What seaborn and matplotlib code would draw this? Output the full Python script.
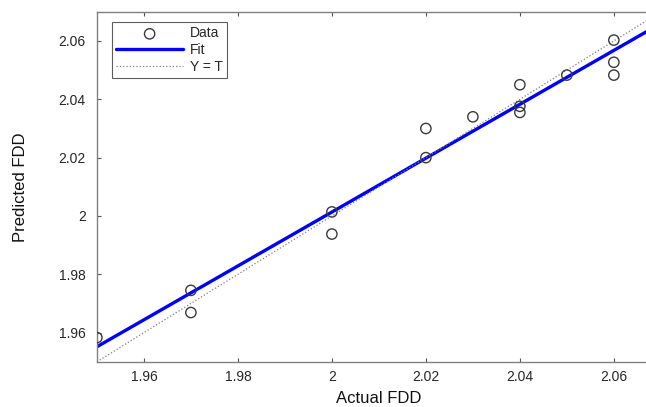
import numpy as np
import pandas as pd
import matplotlib
matplotlib.use('Agg')
import matplotlib.pyplot as plt
import seaborn as sns

# values
actual = [1.95, 1.97, 1.97, 2.00, 2.00, 2.02, 2.02, 2.03,
          2.04, 2.04, 2.04, 2.05, 2.06, 2.06, 2.06]
predicted = [1.9583, 1.9745, 1.9669, 2.0014, 1.9938, 2.0300, 2.0200, 2.0340,
             2.0450, 2.0376, 2.0355, 2.0483, 2.0603, 2.0527, 2.0483]
x_ticks = [1.96, 1.98, 2.00, 2.02, 2.04, 2.06]
y_ticks = [1.96, 1.98, 2.00, 2.02, 2.04, 2.06]
x_tick_labels = ['1.96', '1.98', '2', '2.02', '2.04', '2.06']
y_tick_labels = ['1.96', '1.98', '2', '2.02', '2.04', '2.06']

data = pd.DataFrame({'Actual': actual, 'Predicted': predicted})

sns.set_style('white')
plt.rcParams['font.family'] = ['Liberation Sans', 'DejaVu Sans']

fig = plt.figure(figsize=(6.46, 4.07), dpi=100)
# axes run past the right edge, as in the cropped original
ax = fig.add_axes([0.150, 0.111, 0.873, 0.860])

# Linear fit of predicted vs actual
slope, intercept = np.polyfit(data['Actual'], data['Predicted'], 1)
line_x = np.array([1.95, 2.07])

sns.scatterplot(data=data, x='Actual', y='Predicted', ax=ax, marker='o',
                s=55, facecolor='none', edgecolor='#3a3a3a', linewidth=1.0,
                label='Data', zorder=3)
ax.plot(line_x, slope * line_x + intercept, color='#0000ff', lw=2.4, label='Fit')
ax.plot(line_x, line_x, color='#808080', lw=0.9, ls=':', label='Y = T')

ax.set_xlim(1.95, 2.07)
ax.set_ylim(1.95, 2.07)
ax.set_xticks(x_ticks)
ax.set_xticklabels(x_tick_labels)
ax.set_yticks(y_ticks)
ax.set_yticklabels(y_tick_labels)
ax.tick_params(direction='in', length=3, width=0.8, color='#555555',
               labelsize=10, labelcolor='#262626', top=True, right=True,
               bottom=True, left=True)
ax.tick_params(axis='x', pad=6)
ax.tick_params(axis='y', pad=8)
for sp in ax.spines.values():
    sp.set_color('#808080')
    sp.set_linewidth(1.0)

ax.set_xlabel('Actual FDD', fontsize=12, color='#111111', labelpad=5)
ax.set_ylabel('Predicted FDD', fontsize=12, color='#111111', labelpad=22)

leg = ax.legend(loc='upper left', bbox_to_anchor=(0.027, 0.97), fontsize=10,
                frameon=True, fancybox=False, handlelength=4.8,
                borderpad=0.3, labelspacing=0.2, handletextpad=0.5,
                borderaxespad=0.0)
leg.get_frame().set_edgecolor('#333333')
leg.get_frame().set_linewidth(0.8)

fig.savefig('out.png', dpi=100)
